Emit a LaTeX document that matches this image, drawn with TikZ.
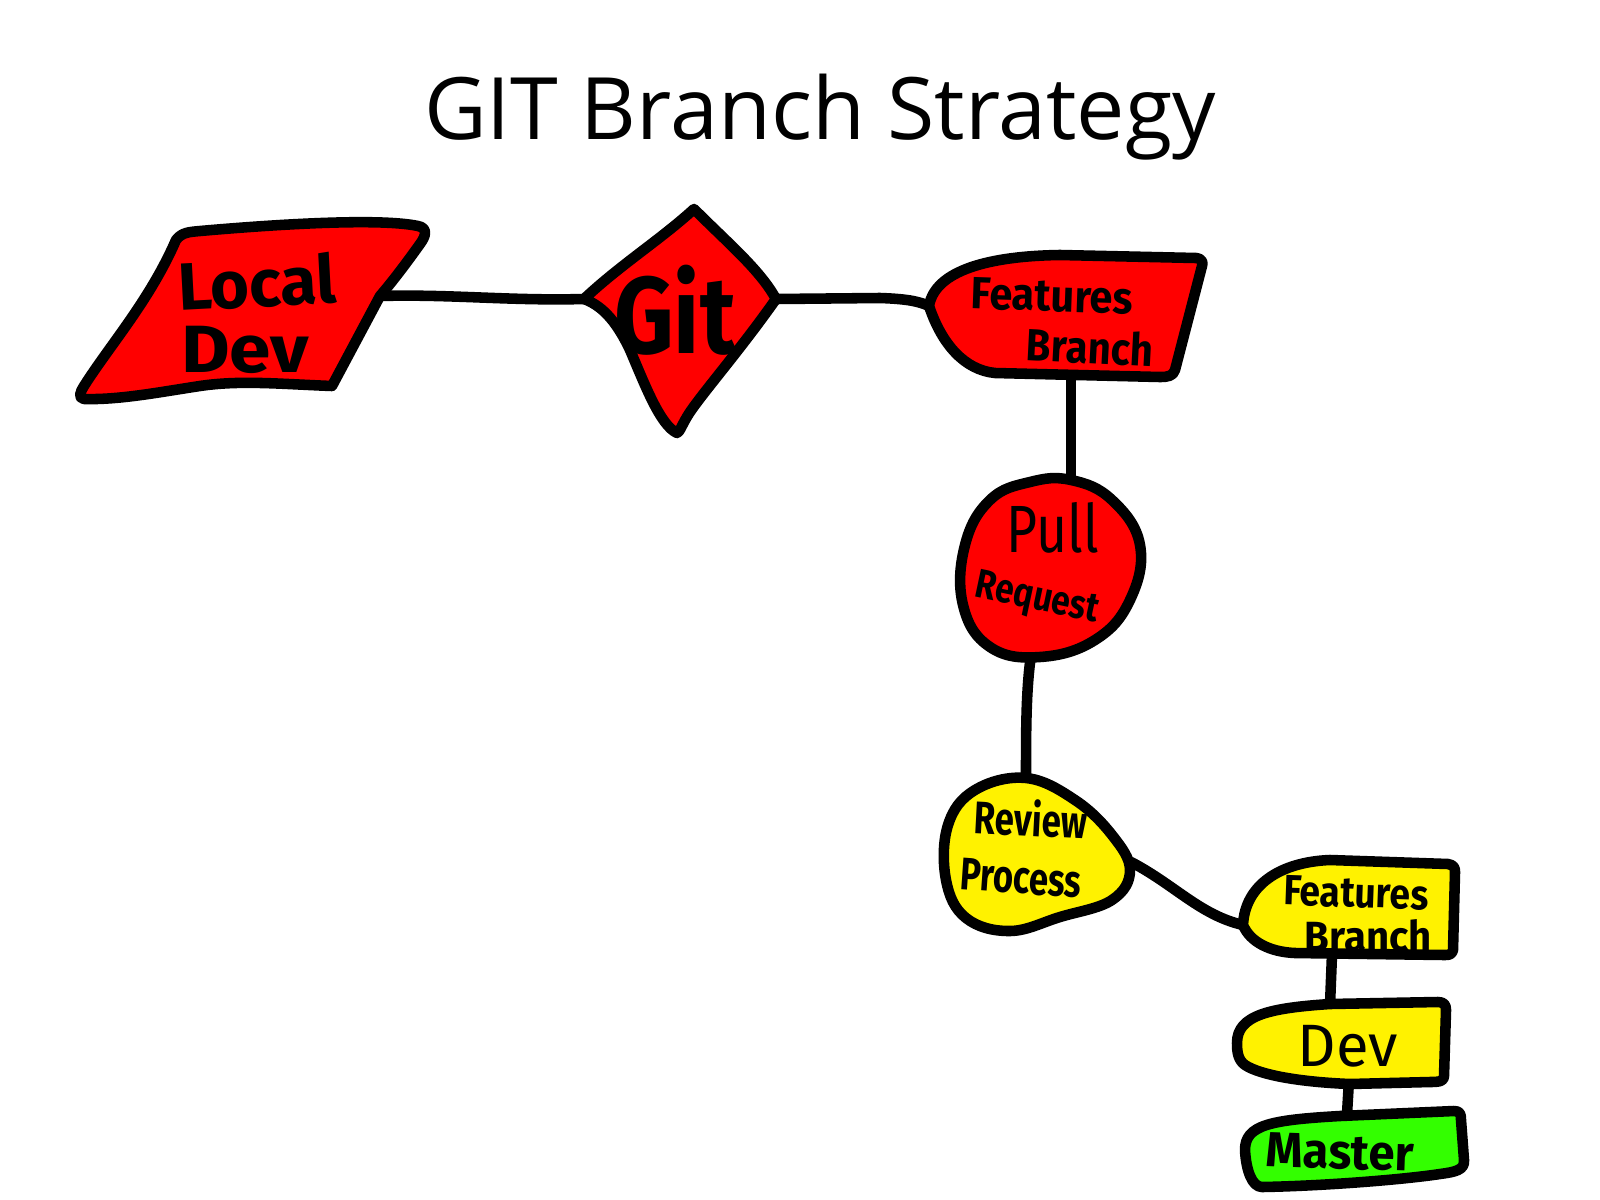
\documentclass[tikz,border=0pt]{standalone}
\usepackage{graphicx}
\usepackage{fontspec}
\setmainfont{Open Sans}
\newfontfamily\handfont{Fira Sans}
\newcommand\hsq[2]{\scalebox{#1}[1]{#2}}
\definecolor{gred}{RGB}{255,0,0}
\definecolor{gyellow}{RGB}{255,242,0}
\definecolor{ggreen}{RGB}{51,255,0}
\begin{document}
\begin{tikzpicture}[x=0.01cm,y=-0.01cm,
  shapeline/.style={draw=black,line width=3pt,line join=round,line cap=round},
  redshape/.style={shapeline,fill=gred},
  yelshape/.style={shapeline,fill=gyellow},
  grnshape/.style={shapeline,fill=ggreen},
  conn/.style={draw=black,line width=3pt,line cap=round},
  lbl/.style={text=black,inner sep=0pt}]
\useasboundingbox (0,0) rectangle (1600,1200);
\fill[white] (0,0) rectangle (1600,1200);

% title
\node[font=\fontsize{24.5}{28}\selectfont,inner sep=0pt] (title) at (820,117) {GIT Branch Strategy};

% connection points
\coordinate (ldR) at (380,296);
\coordinate (gitL) at (584,299);
\coordinate (gitR) at (776,299);
\coordinate (fb1L) at (929,306);
\coordinate (fb1B) at (1071,376);
\coordinate (prT) at (1071,480);
\coordinate (prB) at (1031,655);
\coordinate (rpT) at (1026,778);
\coordinate (rpR) at (1131,862);
\coordinate (fb2L) at (1243,925);
\coordinate (fb2B) at (1332,954);
\coordinate (devT) at (1330,1005);
\coordinate (devB) at (1349,1080);
\coordinate (maT) at (1347,1114);

% connectors
\draw[conn] (ldR) .. controls (450,294) and (510,301) .. (gitL);
\draw[conn] (gitR) -- (880,298) .. controls (910,299) and (920,302) .. (fb1L);
\draw[conn] (fb1B) -- (prT);
\draw[conn] (prB) .. controls (1026,690) and (1026,730) .. (rpT);
\draw[conn] (rpR) .. controls (1175,885) and (1200,915) .. (fb2L);
\draw[conn] (fb2B) -- (devT);
\draw[conn] (devB) -- (maT);

% Local Dev
\path[redshape] (176,240) .. controls (182,232) and (190,232) .. (200,231)
  .. controls (280,224) and (380,218) .. (418,226)
  .. controls (428,228) and (426,236) .. (420,244)
  .. controls (405,265) and (392,282) .. (380,296)
  -- (332,386)
  .. controls (280,384) and (240,380) .. (200,386)
  .. controls (160,392) and (120,400) .. (84,399)
  .. controls (78,398) and (80,392) .. (84,386)
  .. controls (110,345) and (150,300) .. (176,240) -- cycle;
\node[lbl,font=\handfont\bfseries\fontsize{19}{22}\selectfont,rotate=3] (ldt1) at (257,282) {\hsq{1.0}{Local}};
\node[lbl,font=\handfont\bfseries\fontsize{19}{22}\selectfont] (ldt2) at (245,350) {\hsq{1.12}{Dev}};

% Git diamond
\path[redshape] (694,209) .. controls (730,245) and (760,270) .. (776,299)
  .. controls (740,350) and (705,390) .. (690,412)
  .. controls (682,424) and (680,432) .. (677,433)
  .. controls (660,425) and (645,385) .. (630,350)
  .. controls (615,318) and (600,305) .. (584,299)
  .. controls (620,265) and (660,240) .. (694,209) -- cycle;
\node[lbl,font=\handfont\bfseries\fontsize{31}{34}\selectfont] (gitt) at (675,310) {\hsq{0.85}{Git}};

% Features Branch 1
\path[redshape] (fb1L) .. controls (935,270) and (990,256) .. (1060,255)
  -- (1196,258) .. controls (1203,259) and (1203,263) .. (1202,266)
  -- (1175,370) .. controls (1173,376) and (1168,377) .. (1160,377)
  -- (995,373) .. controls (965,370) and (942,345) .. (fb1L) -- cycle;
\node[lbl,font=\handfont\bfseries\fontsize{12.8}{15}\selectfont,rotate=-2] (fb1t1) at (1052,296) {\hsq{0.92}{Features}};
\node[lbl,font=\handfont\bfseries\fontsize{12.8}{15}\selectfont,rotate=-3] (fb1t2) at (1090,347) {\hsq{0.89}{Branch}};

% Pull Request
\path[redshape] plot[smooth cycle,tension=0.7] coordinates {(1071,480) (1112,500) (1140,545) (1130,600) (1095,640) (1040,657) (990,647) (963,605) (965,545) (990,500) (1030,482)};
\node[lbl,font=\handfont\fontsize{19}{22}\selectfont] (prt1) at (1053,528) {\hsq{0.8}{Pull}};
\node[lbl,font=\handfont\bfseries\fontsize{11.6}{14}\selectfont,rotate=-12] (prt2) at (1037,600) {\hsq{0.82}{Request}};

% Review Process
\path[yelshape] plot[smooth cycle,tension=0.65] coordinates {(1026,778) (1075,800) (1112,835) (1130,870) (1112,900) (1060,917) (1010,931) (966,918) (946,880) (948,825) (975,790)};
\node[lbl,font=\handfont\bfseries\fontsize{13}{16}\selectfont,rotate=-3] (rpt1) at (1031,818) {\hsq{0.76}{Review}};
\node[lbl,font=\handfont\bfseries\fontsize{13}{16}\selectfont,rotate=-4] (rpt2) at (1021,878) {\hsq{0.76}{Process}};

% Features Branch 2
\path[yelshape] (fb2L) .. controls (1245,885) and (1280,862) .. (1330,860)
  -- (1448,864) .. controls (1454,865) and (1455,868) .. (1455,872)
  -- (1453,950) .. controls (1452,954) and (1450,955) .. (1445,955)
  -- (1295,953) .. controls (1270,952) and (1250,942) .. (fb2L) -- cycle;
\node[lbl,font=\handfont\bfseries\fontsize{12}{15}\selectfont,rotate=-2] (fb2t1) at (1356,893) {\hsq{0.88}{Features}};
\node[lbl,font=\handfont\bfseries\fontsize{12}{15}\selectfont] (fb2t2) at (1368,936) {\hsq{0.95}{Branch}};

% Dev
\path[yelshape] (1237,1043) .. controls (1237,1015) and (1270,1008) .. (1330,1004)
  -- (1438,1002) .. controls (1444,1002) and (1446,1005) .. (1446,1010)
  -- (1444,1076) .. controls (1444,1081) and (1440,1082) .. (1430,1082)
  -- (1350,1084) .. controls (1300,1082) and (1260,1075) .. (1245,1065)
  .. controls (1238,1060) and (1237,1052) .. (1237,1043) -- cycle;
\node[lbl,font=\handfont\fontsize{17}{20}\selectfont] (devt) at (1348,1046) {Dev};

% Master
\path[grnshape] (1245,1150) .. controls (1245,1125) and (1270,1120) .. (1340,1116)
  -- (1454,1111) .. controls (1460,1111) and (1461,1114) .. (1461,1120)
  -- (1464,1160) .. controls (1465,1170) and (1455,1172) .. (1440,1174)
  .. controls (1400,1180) and (1320,1186) .. (1262,1187)
  .. controls (1252,1187) and (1246,1170) .. (1245,1150) -- cycle;
\node[lbl,font=\handfont\bfseries\fontsize{14}{17}\selectfont,rotate=-2] (mat) at (1340,1152) {\hsq{0.96}{Master}};
\end{tikzpicture}
\end{document}
